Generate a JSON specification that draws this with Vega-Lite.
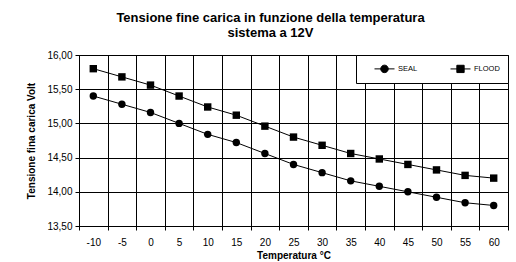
{
  "$schema": "https://vega.github.io/schema/vega-lite/v6.json",
  "width": 429,
  "height": 171,
  "autosize": {"type": "none"},
  "padding": {"left": 79, "top": 55, "right": 8, "bottom": 36},
  "background": "#ffffff",
  "title": {
    "text": ["Tensione fine carica in funzione della temperatura", "sistema a 12V"],
    "font": "Liberation Sans",
    "fontSize": 13,
    "fontWeight": "bold",
    "color": "#000000",
    "anchor": "middle",
    "dx": -23,
    "offset": 10,
    "lineHeight": 15
  },
  "config": {
    "font": "Liberation Sans",
    "view": {"stroke": "#000000", "strokeWidth": 1},
    "axis": {
      "labelFont": "Liberation Sans",
      "labelFontSize": 10,
      "labelColor": "#000000",
      "titleFont": "Liberation Sans",
      "titleFontSize": 10,
      "titleFontWeight": "bold",
      "titleColor": "#000000",
      "domainColor": "#000000",
      "tickColor": "#000000",
      "gridColor": "#000000",
      "gridOpacity": 1,
      "tickSize": 4
    }
  },
  "data": {
    "values": [
      {"temp": -10, "serie": "SEAL", "volt": 15.40},
      {"temp": -5, "serie": "SEAL", "volt": 15.28},
      {"temp": 0, "serie": "SEAL", "volt": 15.16},
      {"temp": 5, "serie": "SEAL", "volt": 15.00},
      {"temp": 10, "serie": "SEAL", "volt": 14.84},
      {"temp": 15, "serie": "SEAL", "volt": 14.72},
      {"temp": 20, "serie": "SEAL", "volt": 14.56},
      {"temp": 25, "serie": "SEAL", "volt": 14.40},
      {"temp": 30, "serie": "SEAL", "volt": 14.28},
      {"temp": 35, "serie": "SEAL", "volt": 14.16},
      {"temp": 40, "serie": "SEAL", "volt": 14.08},
      {"temp": 45, "serie": "SEAL", "volt": 14.00},
      {"temp": 50, "serie": "SEAL", "volt": 13.92},
      {"temp": 55, "serie": "SEAL", "volt": 13.84},
      {"temp": 60, "serie": "SEAL", "volt": 13.80},
      {"temp": -10, "serie": "FLOOD", "volt": 15.80},
      {"temp": -5, "serie": "FLOOD", "volt": 15.68},
      {"temp": 0, "serie": "FLOOD", "volt": 15.56},
      {"temp": 5, "serie": "FLOOD", "volt": 15.40},
      {"temp": 10, "serie": "FLOOD", "volt": 15.24},
      {"temp": 15, "serie": "FLOOD", "volt": 15.12},
      {"temp": 20, "serie": "FLOOD", "volt": 14.96},
      {"temp": 25, "serie": "FLOOD", "volt": 14.80},
      {"temp": 30, "serie": "FLOOD", "volt": 14.68},
      {"temp": 35, "serie": "FLOOD", "volt": 14.56},
      {"temp": 40, "serie": "FLOOD", "volt": 14.48},
      {"temp": 45, "serie": "FLOOD", "volt": 14.40},
      {"temp": 50, "serie": "FLOOD", "volt": 14.32},
      {"temp": 55, "serie": "FLOOD", "volt": 14.24},
      {"temp": 60, "serie": "FLOOD", "volt": 14.20}
    ]
  },
  "encoding": {
    "x": {
      "field": "temp",
      "type": "ordinal",
      "sort": "ascending",
      "scale": {"type": "band", "paddingInner": 0, "paddingOuter": 0},
      "axis": {
        "title": "Temperatura °C",
        "labelAngle": 0,
        "grid": true,
        "tickBand": "extent",
        "labelPadding": 7,
        "titlePadding": 3
      }
    },
    "y": {
      "field": "volt",
      "type": "quantitative",
      "scale": {"domain": [13.5, 16], "nice": false, "zero": false},
      "axis": {
        "title": "Tensione fina carica Volt",
        "values": [13.5, 14, 14.5, 15, 15.5, 16],
        "labelExpr": "replace(format(datum.value, '.2f'), '.', ',')",
        "grid": true,
        "labelPadding": 3,
        "titlePadding": 10
      }
    }
  },
  "layer": [
    {
      "mark": {"type": "line", "strokeWidth": 1, "color": "#000000"},
      "encoding": {"detail": {"field": "serie"}}
    },
    {
      "transform": [{"filter": "datum.serie == 'SEAL'"}],
      "mark": {"type": "point", "shape": "circle", "filled": true, "opacity": 1, "size": 55, "color": "#000000"}
    },
    {
      "transform": [{"filter": "datum.serie == 'FLOOD'"}],
      "mark": {"type": "point", "shape": "square", "filled": true, "opacity": 1, "size": 55, "color": "#000000"}
    },
    {
      "mark": {"type": "point", "opacity": 0, "size": 100, "fill": "#000000", "stroke": "#000000", "strokeWidth": 1},
      "encoding": {
        "shape": {
          "field": "serie",
          "type": "nominal",
          "scale": {
            "domain": ["SEAL", "FLOOD"],
            "range": [
              "M-2,0H2M-0.75,0A0.75,0.75,0,1,1,0.75,0A0.75,0.75,0,1,1,-0.75,0Z",
              "M-2,0H2M-0.73,-0.73H0.73V0.73H-0.73Z"
            ]
          },
          "legend": {
            "title": null,
            "orient": "top-right",
            "offset": 0,
            "direction": "horizontal",
            "fillColor": "#ffffff",
            "strokeColor": "#000000",
            "padding": 8,
            "symbolSize": 100,
            "symbolOffset": 15,
            "symbolOpacity": 1,
            "symbolStrokeWidth": 1,
            "labelOffset": 8,
            "columnPadding": 22,
            "labelFont": "Liberation Sans",
            "labelFontSize": 7.5,
            "labelColor": "#000000",
            "labelExpr": "datum.label == 'FLOOD' ? 'FLOOD\u00a0\u00a0\u00a0\u00a0\u00a0\u00a0\u00a0\u00a0\u00a0\u00a0\u00a0\u00a0' : datum.label"
          }
        }
      }
    }
  ]
}
